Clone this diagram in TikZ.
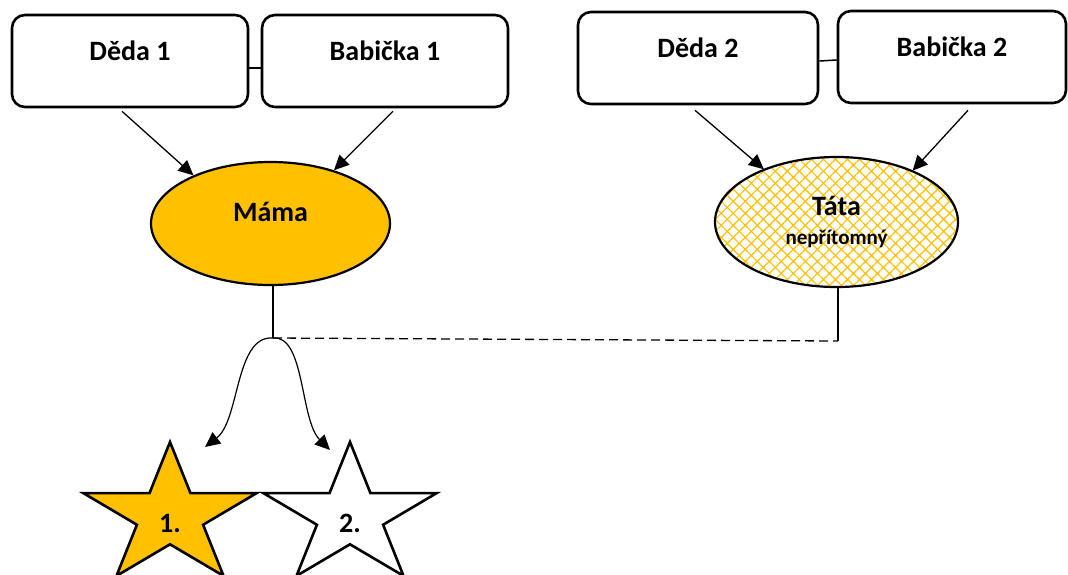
\documentclass[tikz,border=0pt]{standalone}
\usepackage{fontspec}
\setmainfont{Carlito}
\usepackage{tikz}
\usetikzlibrary{arrows.meta}
\usetikzlibrary{calc}
\usetikzlibrary{patterns.meta}
\usetikzlibrary{shapes.geometric}
\usetikzlibrary{positioning}

\definecolor{zlata}{HTML}{FFC000}

\begin{document}
\begin{tikzpicture}[x=1pt,y=-1pt,
    font=\bfseries\fontsize{28}{32}\selectfont,
    osoba/.style={draw,line width=2.6pt,rounded corners=13pt,inner sep=0pt,text height=45pt,text depth=47pt},
    rodic/.style={draw,ellipse,line width=2.2pt,inner sep=0pt},
    sipka/.style={draw,line width=1.3pt,-{Triangle[length=15pt,width=14pt]}},
    hvezda/.style={draw,line width=2.6pt,line join=miter}]

  \fill [white] (0,0) rectangle (1068,574);
  \useasboundingbox (0,0) rectangle (1068,574);

  % prarodice
  \node [osoba,minimum width=236pt] (ded1) at (130,61) {Děda 1};
  \node [osoba,minimum width=246pt] (bab1) at (385,61) {Babička 1};
  \node [osoba,minimum width=240pt] (ded2) at (698,58) {Děda 2};
  \node [osoba,minimum width=228pt] (bab2) at (952,57) {Babička 2};

  \draw [line width=2pt]   ([yshift=-7pt]ded1.east) -- ([yshift=-7pt]bab1.west);
  \draw [line width=1.5pt] ([yshift=-3pt]ded2.east) -- ([yshift=-3pt]bab2.west);

  % rodice
  \node [rodic,fill=zlata,minimum width=239pt,minimum height=123pt,text height=10pt,text depth=15pt] (mama) at (270.5,223.5) {Máma};
  \node [rodic,pattern={Hatch[angle=45,distance=8.5pt,line width=1.2pt]},pattern color=zlata,
         minimum width=243pt,minimum height=130pt,align=center] (tata) at (836.5,222)
        {Táta\\[-3pt]\fontsize{21}{24}\selectfont nepřítomný};

  \path
    ([xshift=-8pt,yshift=-3pt]ded1.south)  edge [sipka] (mama.148)
    ([xshift=8pt,yshift=-3pt]bab1.south)   edge [sipka] (mama.40)
    ([xshift=-3pt,yshift=-5pt]ded2.south)  edge [sipka] (tata.144)
    ([xshift=16pt,yshift=-6pt]bab2.south)  edge [sipka] (tata.34);

  % deti
  \coordinate (fork) at (273,338);
  \coordinate (tatadown) at (838,341);
  \coordinate (tip1) at (205,447);
  \coordinate (tip2) at (330,450);

  \draw [line width=1.3pt] (fork |- mama.south) -- (fork);
  \draw [line width=1.3pt,dash pattern=on 9pt off 5pt] (fork) -- (tatadown);
  \draw [line width=1.3pt] (tatadown) -- (tatadown |- tata.south);

  \draw [sipka,line width=1.2pt] (fork) .. controls +(-38,-3) and +(35,-27) .. (tip1);
  \draw [sipka,line width=1.2pt] (fork) .. controls +(32,-3) and +(-30,-30) .. (tip2);

  \coordinate (star1) at (170,516);
  \coordinate (star2) at (350,516);
  \foreach \s/\f in {star1/zlata,star2/white}
    \draw [hvezda,fill=\f,shift={(\s)},xscale=1.23,yscale=-1]
      (90:74) \foreach \k [evaluate=\k as \r using {mod(\k,2)==1?28.3:74}] in {1,...,9} { -- ({90+36*\k}:\r) } -- cycle;

  \node (kid1) at ([yshift=-7pt]star1) {1.};
  \node (kid2) at ([yshift=-7pt]star2) {2.};

\end{tikzpicture}
\end{document}
